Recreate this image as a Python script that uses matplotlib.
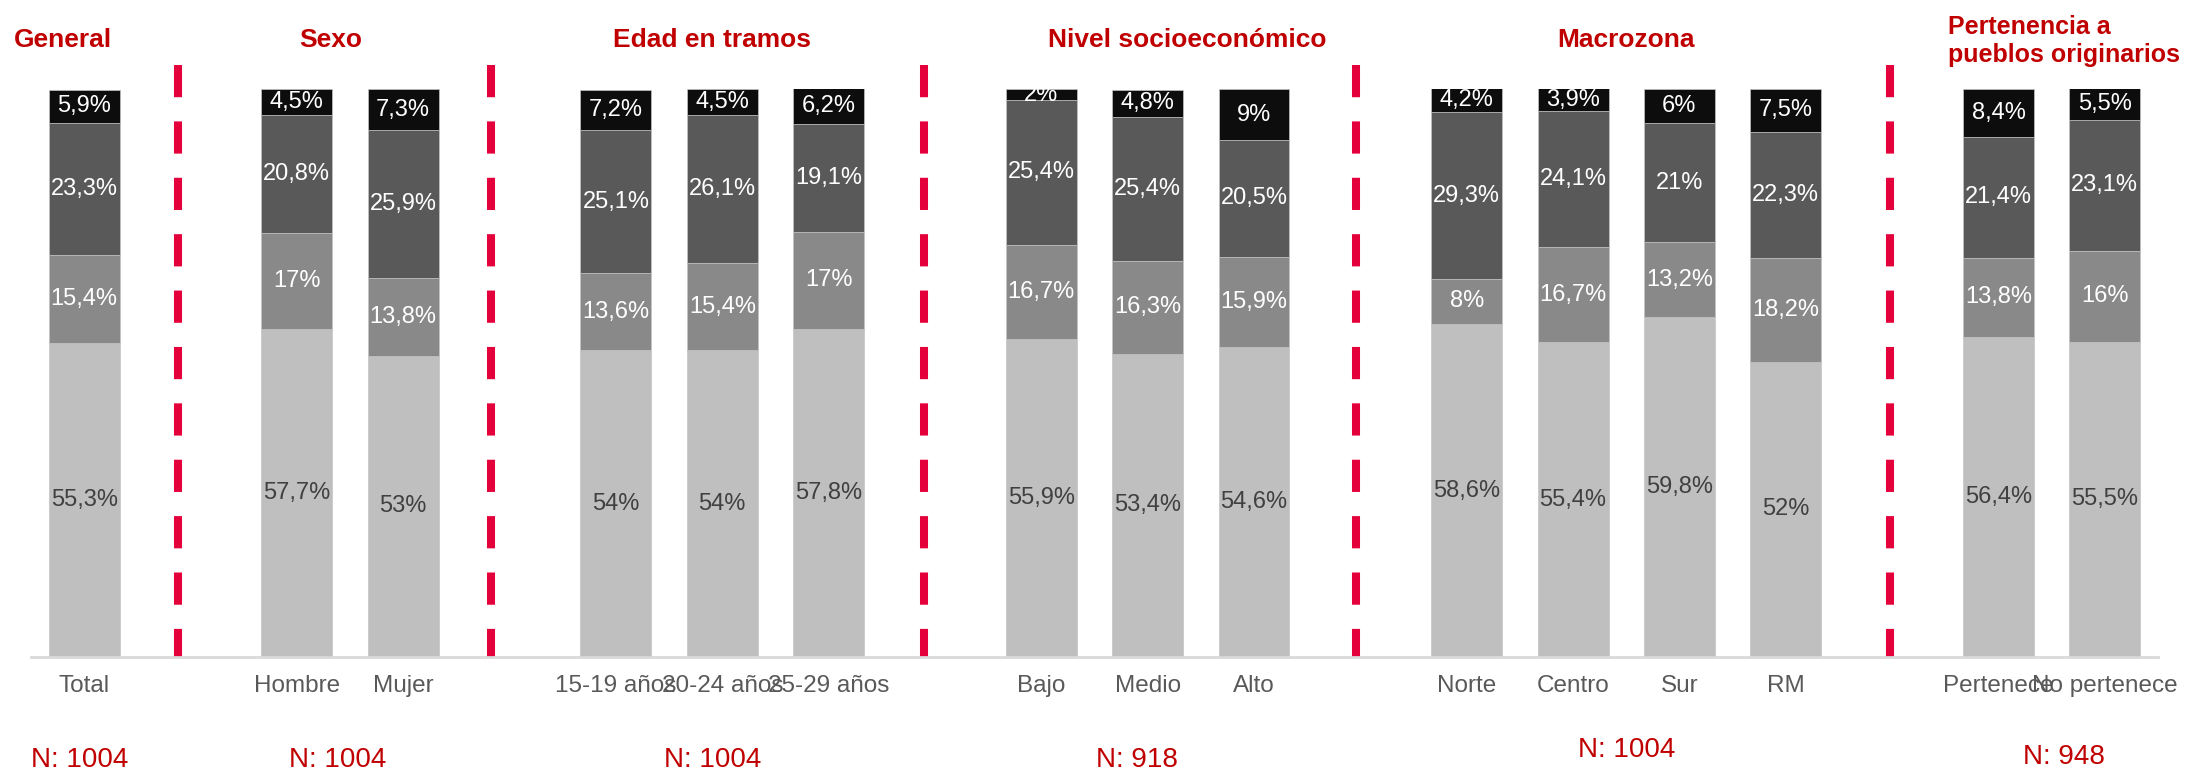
import matplotlib
matplotlib.use("Agg")
import matplotlib.pyplot as plt
import numpy as np

plt.rcParams['font.family'] = ['Liberation Sans', 'DejaVu Sans']

# categorias (las posiciones vacias llevan la linea roja)
categorias = ["Total", "", "Hombre", "Mujer", "", "15-19 años", "20-24 años", "25-29 años", "",
              "Bajo", "Medio", "Alto", "", "Norte", "Centro", "Sur", "RM", "", "Pertenece", "No pertenece"]

# segmentos de abajo hacia arriba
seg1 = [55.3, None, 57.7, 53, None, 54, 54, 57.8, None, 55.9, 53.4, 54.6, None, 58.6, 55.4, 59.8, 52, None, 56.4, 55.5]
seg2 = [15.4, None, 17, 13.8, None, 13.6, 15.4, 17, None, 16.7, 16.3, 15.9, None, 8, 16.7, 13.2, 18.2, None, 13.8, 16]
seg3 = [23.3, None, 20.8, 25.9, None, 25.1, 26.1, 19.1, None, 25.4, 25.4, 20.5, None, 29.3, 24.1, 21, 22.3, None, 21.4, 23.1]
seg4 = [5.9, None, 4.5, 7.3, None, 7.2, 4.5, 6.2, None, 2, 4.8, 9, None, 4.2, 3.9, 6, 7.5, None, 8.4, 5.5]

grupos = ["General", "Sexo", "Edad en tramos", "Nivel socioeconómico", "Macrozona", "Pertenencia a\npueblos originarios"]
grupo_x = [-0.20, 2.32, 5.90, 10.37, 14.50, 17.53]
muestras = ["N: 1004", "N: 1004", "N: 1004", "N: 918", "N: 1004", "N: 948"]
muestra_x = [-0.04, 2.38, 5.91, 9.90, 14.50, 18.62]
muestra_y = [-18.1, -18.1, -18.1, -18.1, -16.4, -17.6]
separadores = [0.883, 3.83, 7.90, 11.96, 16.98]

colores = ["#BFBFBF", "#898989", "#595959", "#0D0D0D"]
color_texto = ["#404040", "white", "white", "white"]
rojo = "#C00000"


def etiqueta(v):
    if float(v).is_integer():
        return f"{int(v)}%"
    return f"{v}%".replace(".", ",")


fig = plt.figure(figsize=(21.87, 7.74), dpi=100)
ax = fig.add_axes([0.01417, 0.15116, 0.97257, 0.73385])

x = np.arange(len(categorias))
base = np.zeros(len(categorias))
for serie, col, tcol in zip([seg1, seg2, seg3, seg4], colores, color_texto):
    for i, v in enumerate(serie):
        if v is None:
            continue
        ax.bar(x[i], v, width=0.667, bottom=base[i], color=col, edgecolor="#c4c4c4", linewidth=0.5)
        ax.text(x[i], base[i] + v / 2, etiqueta(v), ha="center", va="center",
                fontsize=17, color=tcol)
        base[i] += v

ax.set_xlim(-0.5, 19.5)
ax.set_ylim(0, 100)
for s in ["top", "right", "left"]:
    ax.spines[s].set_visible(False)
ax.spines["bottom"].set_color("#D9D9D9")
ax.spines["bottom"].set_linewidth(2)
ax.set_yticks([])
ax.set_xticks([])

# nombres de categorias
for i, c in enumerate(categorias):
    if c:
        ax.text(x[i], -5.1, c, ha="center", va="center", fontsize=17.5, color="#595959", clip_on=False)

# lineas rojas discontinuas
for sx in separadores:
    ax.plot([sx, sx], [104.2, 0], color="#E4003B", linewidth=5.8, dashes=(4, 3),
            solid_capstyle="butt", dash_capstyle="butt", clip_on=False)

# titulos de grupo
for g, gx in zip(grupos, grupo_x):
    if "\n" in g:
        ax.text(gx, 108.4, g, ha="left", va="center", fontsize=18, fontweight="bold",
                color=rojo, linespacing=1.2, clip_on=False)
    else:
        ax.text(gx, 108.6, g, ha="center", va="center", fontsize=19, fontweight="bold",
                color=rojo, clip_on=False)

# tamano de muestra
for m, mx, my in zip(muestras, muestra_x, muestra_y):
    ax.text(mx, my, m, ha="center", va="center", fontsize=20, color=rojo, clip_on=False)

fig.savefig("out.png", dpi=100)
